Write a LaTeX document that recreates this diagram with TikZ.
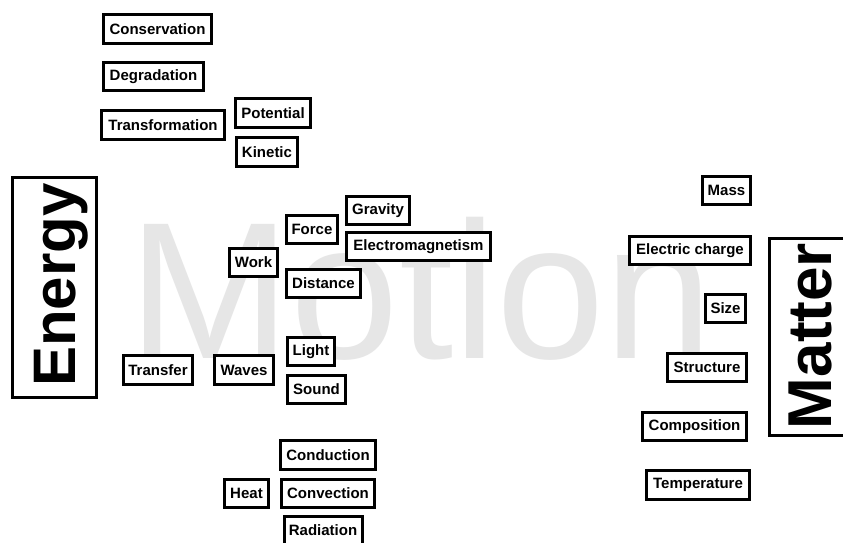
\documentclass[tikz,border=0pt]{standalone}
\usepackage{fontspec}
\setmainfont{Liberation Sans}
\definecolor{motiongray}{RGB}{230,230,230}
\begin{document}
\begin{tikzpicture}[x=1pt,y=-1pt,
  concept/.style={draw=black, fill=white, line width=3pt, inner sep=0pt,
    font=\bfseries\fontsize{15}{18}\selectfont, align=center},
  bigbox/.style={draw=black, fill=white, line width=3pt},
  bigword/.style={font=\bfseries\fontsize{#1}{#1}\selectfont, rotate=90, anchor=base, inner sep=0pt}
]
\useasboundingbox (0,0) rectangle (843,543);
\fill[white] (0,0) rectangle (843,543);
% background word
\node[anchor=base west, inner sep=0pt, text=motiongray,
  font=\fontsize{195}{195}\selectfont] (motion) at (128,358) {Motion};
% big frames
\node[bigbox, minimum width=84pt, minimum height=220pt, inner sep=0pt] (energybox) at (54.5,287.5) {};
\node[bigword=60] (energy) at (75,285) {Energy};
\node[bigbox, minimum width=90pt, minimum height=197pt, inner sep=0pt] (matterbox) at (814,337) {};
\node[bigword=62] (matter) at (831,336) {Matter};
% concept boxes: name, center, outer size minus border
\newcommand{\cbox}[6]{\node[concept, minimum width=#4pt, minimum height=#5pt] (#1) at (#2,#3) {#6};}
\cbox{conservation}{157.5}{29}{108}{29}{Conservation}
\cbox{degradation}{153.5}{76.5}{100}{28}{Degradation}
\cbox{transformation}{163}{125}{123}{29}{Transformation}
\cbox{potential}{273}{113}{75}{29}{Potential}
\cbox{kinetic}{267}{152}{61}{29}{Kinetic}
\cbox{gravity}{378}{210.5}{63}{28}{Gravity}
\cbox{force}{312}{229.5}{51}{28}{Force}
\cbox{em}{418.5}{246.5}{144}{28}{Electromagnetism}
\cbox{work}{253.5}{262.5}{48}{28}{Work}
\cbox{distance}{323.5}{283.5}{74}{28}{Distance}
\cbox{light}{311}{351.5}{47}{28}{Light}
\cbox{transfer}{158}{370}{69}{29}{Transfer}
\cbox{waves}{244}{370}{59}{29}{Waves}
\cbox{sound}{316.5}{389.5}{58}{28}{Sound}
\cbox{conduction}{328}{455}{95}{29}{Conduction}
\cbox{heat}{246.5}{493.5}{44}{28}{Heat}
\cbox{convection}{328}{493.5}{93}{28}{Convection}
\cbox{radiation}{323}{530.5}{78}{28}{Radiation}
\cbox{mass}{726.5}{190.5}{48}{28}{Mass}
\cbox{charge}{690}{250.5}{121}{28}{Electric charge}
\cbox{size}{725.5}{308.5}{40}{28}{Size}
\cbox{structure}{707}{367.5}{79}{28}{Structure}
\cbox{composition}{694.5}{426.5}{104}{28}{Composition}
\cbox{temperature}{698}{485}{103}{29}{Temperature}
\end{tikzpicture}
\end{document}
